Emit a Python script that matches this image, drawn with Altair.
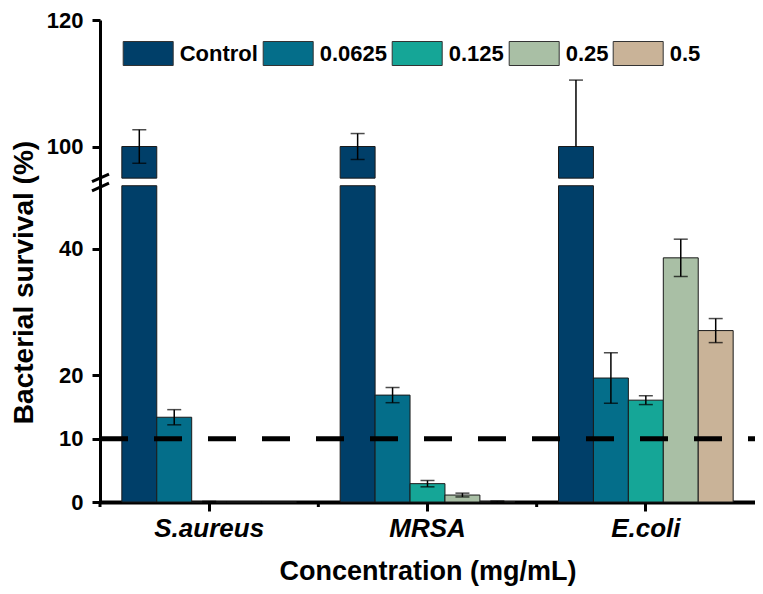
import altair as alt
import pandas as pd

# ---- data ----
categories = ["S.aureus", "MRSA", "E.coli"]
series = ["Control", "0.0625", "0.125", "0.25", "0.5"]
colors = ["#003F69", "#046E8A", "#15A697", "#A9BFA5", "#C9B398"]

saureus_mean = [100.0, 13.4, 0.0, 0.0, 0.0]
mrsa_mean = [100.0, 16.9, 2.9, 1.1, 0.05]
ecoli_mean = [100.0, 19.6, 16.1, 38.6, 27.1]

saureus_err_up = [2.65, 1.2, 0.1, 0.0, 0.0]
mrsa_err_up = [2.05, 1.2, 0.5, 0.3, 0.1]
ecoli_err_up = [10.5, 4.0, 0.7, 2.95, 1.9]

saureus_err_down = [2.65, 1.2, 0.1, 0.0, 0.0]
mrsa_err_down = [2.05, 1.2, 0.5, 0.3, 0.1]
ecoli_err_down = [0.0, 4.0, 0.7, 2.95, 1.9]

y_tick_values = [0, 10, 20, 40, 100, 120]
threshold = 10

# broken axis: lower segment 0-50, upper segment 95-120
LOW_MAX = 50.0
HIGH_MIN = 95.0
HIGH_MAX = 120.0
GAP = 1.2
SHIFT = HIGH_MIN - LOW_MAX - GAP
TOP = HIGH_MAX - SHIFT

W = 655
H = 482
PAD_INNER = 0.2
PAD_OUTER = 0.1


def disp(v):
    return v if v <= LOW_MAX else v - SHIFT


means = [saureus_mean, mrsa_mean, ecoli_mean]
ups = [saureus_err_up, mrsa_err_up, ecoli_err_up]
downs = [saureus_err_down, mrsa_err_down, ecoli_err_down]

bar_rows = []
err_rows = []
for ci, cat in enumerate(categories):
    for si, s in enumerate(series):
        v = means[ci][si]
        bar_rows.append({"cat": cat, "series": s, "y0": 0.0, "y1": min(v, LOW_MAX)})
        if v > HIGH_MIN:
            bar_rows.append({"cat": cat, "series": s, "y0": LOW_MAX + GAP, "y1": disp(v)})
        up, dn = ups[ci][si], downs[ci][si]
        if up > 0 or dn > 0:
            lo = v - dn
            hi = v + up
            if v > HIGH_MIN and lo < HIGH_MIN:
                lo = HIGH_MIN
            err_rows.append({"cat": cat, "series": s, "lo": disp(lo), "hi": disp(hi),
                             "show_lo": dn > 0})

bars_df = pd.DataFrame(bar_rows)
err_df = pd.DataFrame(err_rows)
cat_df = pd.DataFrame({"cat": categories})

FONT = "Liberation Sans"

x_scale = alt.Scale(paddingInner=PAD_INNER, paddingOuter=PAD_OUTER)
x_enc = alt.X("cat:N", sort=categories, scale=x_scale,
              axis=alt.Axis(title="Concentration (mg/mL)", labelAngle=0,
                            labelFontSize=26, labelFontStyle="italic",
                            labelFontWeight="bold", labelFont=FONT, labelColor="black",
                            labelPadding=4, tickSize=9, tickWidth=3, tickColor="black",
                            domainWidth=4, domainColor="black",
                            titleFontSize=27, titleFont=FONT, titleFontWeight="bold",
                            titleColor="black", titlePadding=17))
xoff = alt.XOffset("series:N", sort=series,
                   scale=alt.Scale(paddingInner=0, paddingOuter=0))

tick_disp = [disp(t) for t in y_tick_values]
label_expr = f"datum.value > {LOW_MAX} ? '' + round(datum.value + {SHIFT}) : '' + round(datum.value)"

y_scale = alt.Scale(domain=[0, TOP], nice=False, zero=False)

bars = alt.Chart(bars_df).mark_bar(stroke="#1a1a1a", strokeWidth=1).encode(
    x=x_enc,
    xOffset=xoff,
    y=alt.Y("y1:Q", scale=y_scale,
            axis=alt.Axis(title="Bacterial survival (%)", values=tick_disp,
                          labelExpr=label_expr, grid=False,
                          labelFontSize=22, labelFont=FONT, labelFontWeight="bold",
                          labelColor="black", labelPadding=9,
                          tickSize=8, tickWidth=3, tickColor="black",
                          domainWidth=3, domainColor="black",
                          titleFontSize=28, titleFont=FONT, titleFontWeight="bold",
                          titleColor="black", titleX=-62, titleY=262)),
    y2="y0:Q",
    color=alt.Color("series:N", sort=series,
                    scale=alt.Scale(domain=series, range=colors),
                    legend=alt.Legend(orient="none", legendX=22.7, legendY=8,
                                      direction="horizontal", title=None,
                                      gridAlign="none",
                                      symbolType="M-1,-0.48H1V0.48H-1Z", symbolSize=2500,
                                      symbolStrokeColor="#333333", symbolStrokeWidth=1,
                                      symbolOpacity=1,
                                      labelFontSize=22, labelFont=FONT,
                                      labelFontWeight="bold", labelColor="black",
                                      labelOffset=6, columnPadding=2, padding=0)),
)

whisker = alt.Chart(err_df).mark_rule(color="black", strokeWidth=1.5).encode(
    x=alt.X("cat:N", sort=categories), xOffset=xoff,
    y=alt.Y("lo:Q", scale=y_scale), y2="hi:Q")

cap_hi = alt.Chart(err_df).mark_tick(color="black", thickness=1.5, size=14).encode(
    x=alt.X("cat:N", sort=categories), xOffset=xoff, y=alt.Y("hi:Q", scale=y_scale))

cap_lo = alt.Chart(err_df).transform_filter("datum.show_lo").mark_tick(
    color="black", thickness=1.5, size=14).encode(
    x=alt.X("cat:N", sort=categories), xOffset=xoff, y=alt.Y("lo:Q", scale=y_scale))

# minor ticks at the category boundaries (half the inner padding before each band)
minor_shift = -(PAD_INNER / 2) * W / (len(categories) - PAD_INNER + 2 * PAD_OUTER)
minor = alt.Chart(cat_df).mark_rule(color="black", strokeWidth=3, xOffset=minor_shift).encode(
    x=alt.X("cat:N", sort=categories, bandPosition=0),
    y=alt.value(H), y2=alt.value(H + 5))

dash = alt.Chart(pd.DataFrame({"t": [threshold]})).mark_rule(
    color="black", strokeWidth=5, strokeDash=[28, 26]).encode(
    x=alt.value(0), x2=alt.value(W), y=alt.Y("t:Q", scale=y_scale))

slash1 = alt.Chart(pd.DataFrame({"a": [0]})).mark_rule(color="black", strokeWidth=3).encode(
    x=alt.value(-8), x2=alt.value(9), y=alt.datum(50.65), y2=alt.datum(51.85))
slash2 = alt.Chart(pd.DataFrame({"a": [0]})).mark_rule(color="black", strokeWidth=3).encode(
    x=alt.value(-8), x2=alt.value(9), y=alt.datum(49.2), y2=alt.datum(50.4))

chart = alt.layer(bars, whisker, cap_hi, cap_lo, minor, dash, slash1, slash2).properties(
    width=W, height=H,
    autosize=alt.AutoSizeParams(type="none"),
    padding={"left": 92, "top": 12, "right": 0, "bottom": 85},
).configure_view(strokeWidth=0)

chart.save("out.html", embed_options={"renderer": "svg", "actions": False})
